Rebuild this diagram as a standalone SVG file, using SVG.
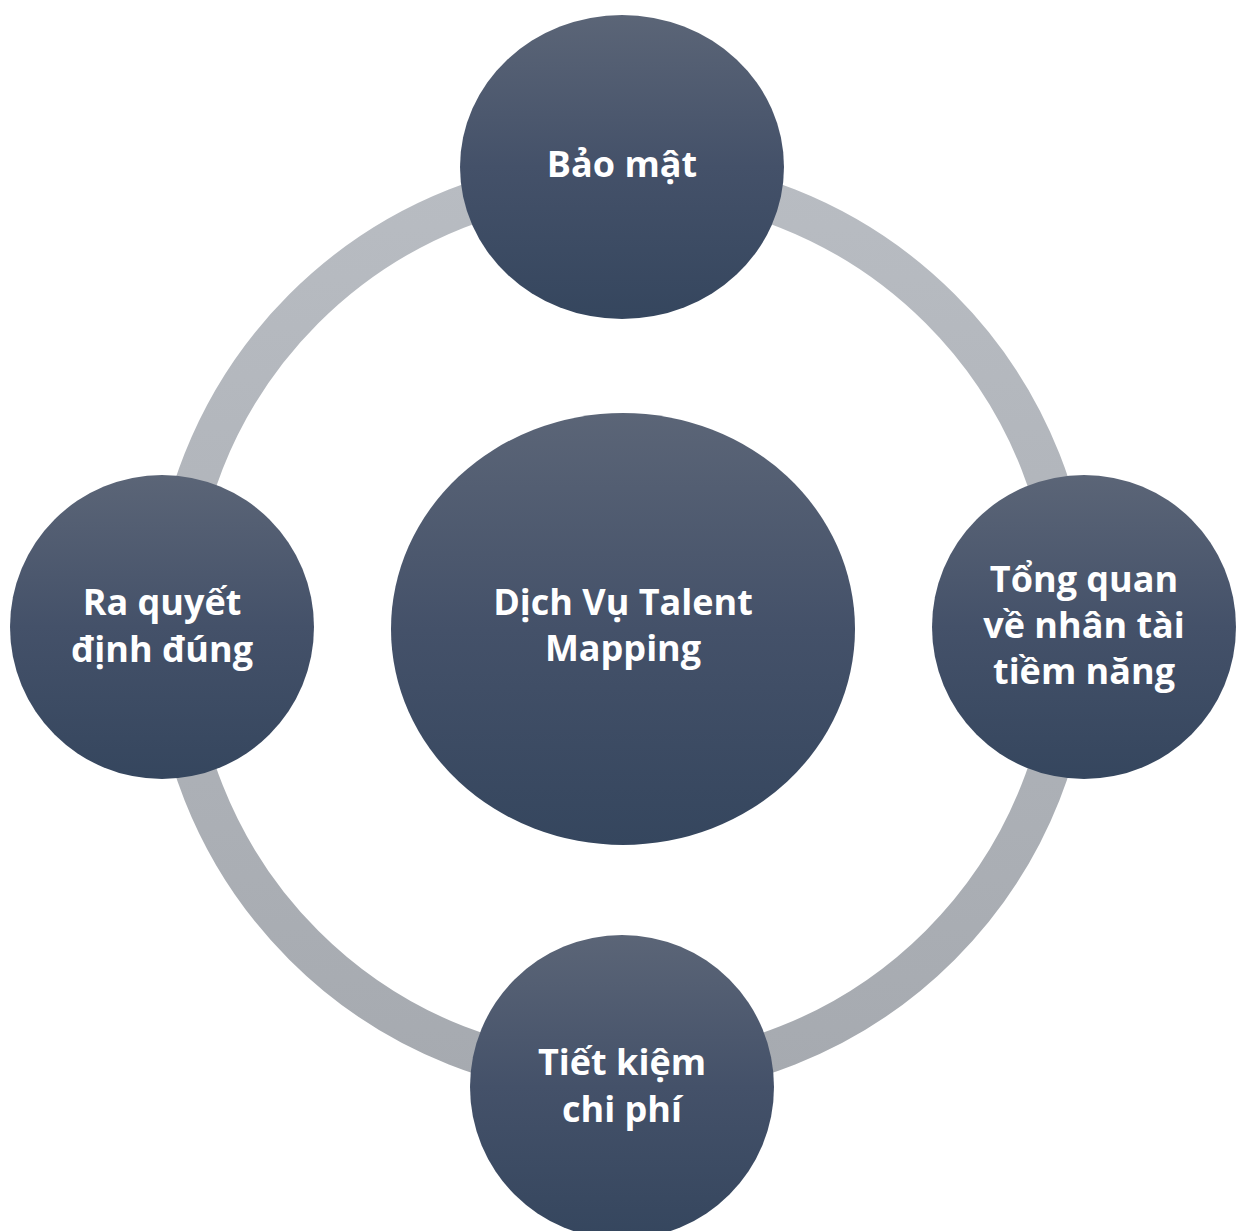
<svg xmlns="http://www.w3.org/2000/svg" width="1236" height="1231" viewBox="0 0 1236 1231">
<defs>
<linearGradient id="nodeGrad" x1="0" y1="0" x2="0" y2="1">
<stop offset="0" stop-color="#5b6577"/>
<stop offset="0.5" stop-color="#445169"/>
<stop offset="1" stop-color="#35465e"/>
</linearGradient>
<linearGradient id="ringGrad" x1="0" y1="0" x2="0" y2="1">
<stop offset="0" stop-color="#b8bcc2"/>
<stop offset="1" stop-color="#a6aab0"/>
</linearGradient>
</defs>
<style>
.node{fill:url(#nodeGrad);}
.lbl{font-family:"Open Sans","Noto Sans","DejaVu Sans",sans-serif;font-weight:700;font-size:36px;fill:#ffffff;text-anchor:middle;}
.ring{fill:none;stroke:url(#ringGrad);stroke-width:41;}
</style>
<rect width="1236" height="1231" fill="#ffffff"/>
<g id="connectors">
<circle class="ring" cx="622" cy="627" r="450"/>
</g>
<g id="node-center">
<ellipse class="node" cx="623" cy="629" rx="232" ry="216"/>
<text class="lbl" x="623" y="615">Dịch Vụ Talent</text>
<text class="lbl" x="623" y="661">Mapping</text>
</g>
<g id="node-top">
<ellipse class="node" cx="622" cy="167" rx="162" ry="152"/>
<text class="lbl" x="622" y="177">Bảo mật</text>
</g>
<g id="node-left">
<circle class="node" cx="162" cy="627" r="152"/>
<text class="lbl" x="162" y="615">Ra quyết</text>
<text class="lbl" x="162" y="662">định đúng</text>
</g>
<g id="node-right">
<circle class="node" cx="1084" cy="627" r="152"/>
<text class="lbl" x="1084" y="592">Tổng quan</text>
<text class="lbl" x="1084" y="638">về nhân tài</text>
<text class="lbl" x="1084" y="684">tiềm năng</text>
</g>
<g id="node-bottom">
<circle class="node" cx="622" cy="1087" r="152"/>
<text class="lbl" x="622" y="1075">Tiết kiệm</text>
<text class="lbl" x="622" y="1122">chi phí</text>
</g>
</svg>
